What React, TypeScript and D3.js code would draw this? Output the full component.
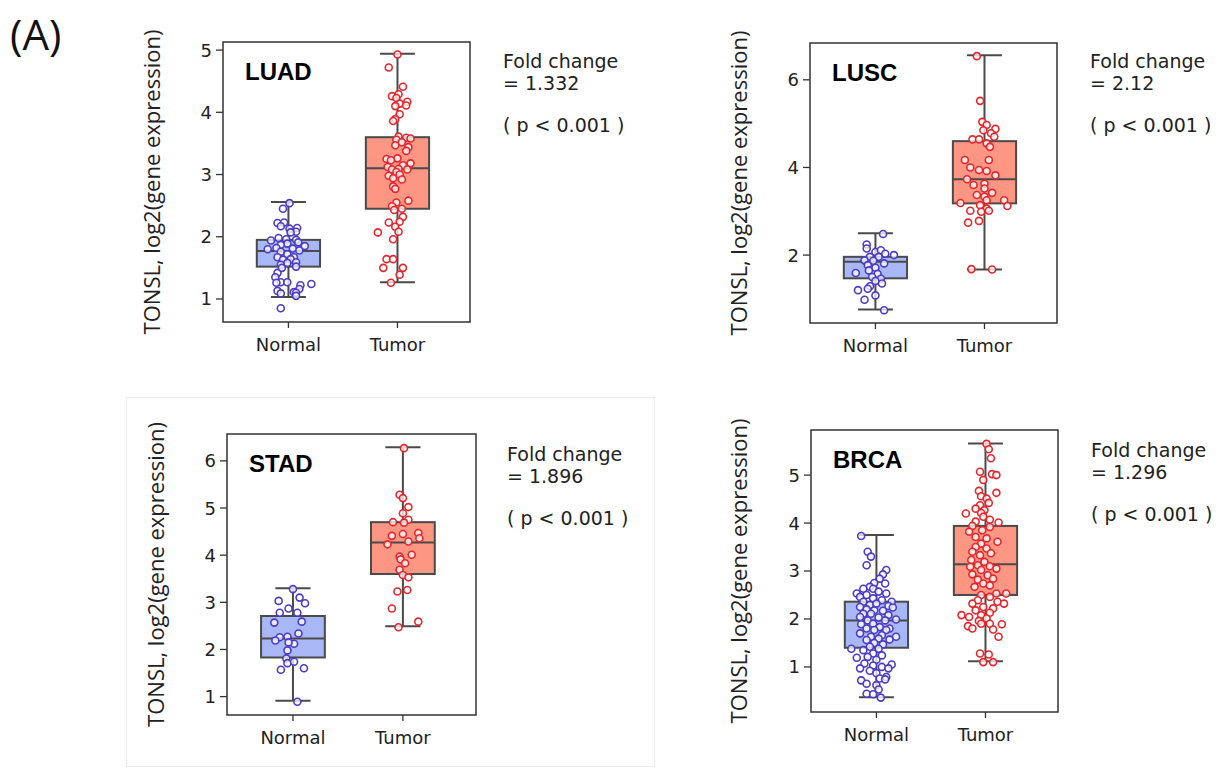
import React from "react";
import * as d3 from "d3";

// ---------- data ----------
const categories = ["Normal", "Tumor"];
const yLabel = "TONSL, log2(gene expression)";

// [min whisker, Q1, median, Q3, max whisker]
const luadNormalStats = [1.03, 1.52, 1.77, 1.95, 2.56];
const luadTumorStats = [1.27, 2.45, 3.1, 3.6, 4.94];
const luscNormalStats = [0.76, 1.47, 1.85, 1.96, 2.5];
const luscTumorStats = [1.67, 3.18, 3.73, 4.6, 6.56];
const stadNormalStats = [0.91, 1.83, 2.23, 2.71, 3.3];
const stadTumorStats = [2.49, 3.6, 4.27, 4.7, 6.29];
const brcaNormalStats = [0.37, 1.4, 1.97, 2.36, 3.75];
const brcaTumorStats = [1.12, 2.5, 3.14, 3.94, 5.66];

// points: [value, jitter (category units)]
const luadNormal = [
  [2.54, 0.01], [2.45, -0.05], [2.22, -0.1], [2.23, -0.04], [2.17, -0.07], [2.14, 0.08], [2.13, 0.01],
  [2.08, 0.07], [2.07, 0.02], [1.98, -0.09], [1.94, -0.16], [1.96, -0.02], [1.95, 0.07], [1.91, 0.09],
  [1.89, -0.01], [1.87, -0.07], [1.85, 0.15], [1.8, -0.19], [1.82, -0.11], [1.81, 0.04], [1.78, 0.1],
  [1.76, -0.07], [1.72, -0.01], [1.67, -0.1], [1.67, 0.05], [1.63, -0.05], [1.64, 0.02], [1.59, 0.07],
  [1.58, -0.01], [1.55, -0.07], [1.52, 0.07], [1.42, -0.1], [1.35, -0.12], [1.5, -0.06], [1.27, -0.07],
  [1.27, -0.01], [1.26, -0.11], [1.24, 0.21], [1.22, 0.11], [1.16, 0.1], [1.13, -0.1], [1.11, 0.05],
  [1.09, -0.07], [1.1, 0.07], [1.05, 0.07], [0.85, -0.07],
];
const luadTumor = [
  [4.93, 0], [4.72, -0.08], [4.41, 0.05], [4.29, 0.01], [4.26, -0.05], [4.23, -0.01], [4.17, 0.09],
  [4.14, 0.02], [4.1, -0.02], [4.11, 0.08], [3.97, 0.02], [3.89, -0.02], [3.86, -0.04], [3.61, 0.01],
  [3.59, 0.08], [3.58, 0.12], [3.56, -0.01], [3.52, 0.04], [3.47, -0.02], [3.44, 0.1], [3.38, 0.08],
  [3.25, -0.1], [3.26, 0], [3.23, -0.06], [3.18, 0.12], [3.15, 0.05], [3.12, -0.09], [3.09, 0.01],
  [3.08, -0.05], [3.08, 0.09], [3.04, -0.01], [3.0, 0.02], [2.98, -0.08], [2.94, -0.04], [2.92, 0.04],
  [2.81, -0.04], [2.77, -0.02], [2.58, 0.1], [2.55, -0.01], [2.49, -0.05], [2.45, 0.04], [2.43, -0.03],
  [2.32, 0.05], [2.24, 0.02], [2.23, -0.08], [2.16, -0.02], [2.08, 0.01], [2.07, -0.18], [1.96, -0.04],
  [1.64, -0.1], [1.64, -0.04], [1.5, -0.13], [1.5, 0.05], [1.39, 0.02], [1.26, -0.06],
];
const luscNormal = [
  [2.48, 0.07], [2.24, -0.08], [2.15, -0.08], [2.07, 0], [2.11, 0.05], [2.03, 0.09], [2.0, 0.17],
  [1.96, -0.05], [1.96, 0.03], [1.88, -0.1], [1.87, -0.02], [1.81, 0.08], [1.77, -0.07], [1.71, 0],
  [1.59, -0.18], [1.65, -0.06], [1.57, 0.02], [1.5, -0.03], [1.46, 0.05], [1.41, 0], [1.35, 0.06],
  [1.29, -0.05], [1.23, -0.07], [1.2, -0.16], [1.08, 0], [0.98, -0.1], [0.74, 0.08],
];
const luscTumor = [
  [6.54, -0.07], [5.52, -0.04], [5.04, -0.02], [4.97, 0.02], [4.88, 0.1], [4.85, -0.01], [4.78, 0.06],
  [4.7, 0.09], [4.64, -0.11], [4.64, -0.05], [4.55, 0.02], [4.47, 0.05], [4.17, -0.18], [4.17, 0.04],
  [4.0, -0.13], [3.94, -0.05], [3.92, 0.02], [3.82, 0.1], [3.73, -0.16], [3.6, -0.1], [3.63, 0],
  [3.52, 0], [3.42, 0.07], [3.37, -0.07], [3.33, 0], [3.25, 0.02], [3.25, 0.18], [3.19, -0.22],
  [3.14, -0.04], [3.12, 0.21], [3.06, 0.02], [2.99, -0.03], [3.01, -0.13], [3.01, 0.04], [2.74, -0.15],
  [2.78, -0.05], [1.68, -0.12], [1.67, 0.07],
];
const stadNormal = [
  [3.28, 0], [3.1, 0.06], [3.03, -0.13], [2.98, 0.11], [2.87, -0.04], [2.78, -0.12], [2.78, 0.04],
  [2.59, 0.08], [2.57, -0.17], [2.34, 0.05], [2.26, -0.12], [2.27, -0.05], [2.19, -0.16], [2.12, 0.01],
  [2.15, -0.04], [1.98, -0.05], [1.81, -0.06], [1.71, -0.05], [1.74, 0.01], [1.57, -0.11], [1.6, 0.1],
  [0.89, 0.04],
];
const stadTumor = [
  [6.27, 0.01], [5.28, -0.03], [5.21, 0], [5.02, 0.05], [4.89, 0], [4.75, 0.05], [4.7, -0.09],
  [4.69, 0.01], [4.41, -0.1], [4.45, 0], [4.47, 0.14], [4.36, 0.15], [4.29, 0.05], [4.23, -0.14],
  [3.97, -0.03], [4.01, 0.08], [3.91, -0.02], [3.83, 0.02], [3.69, -0.03], [3.58, 0], [3.53, 0.05],
  [3.23, -0.05], [3.26, 0.04], [2.87, -0.1], [2.59, 0.14], [2.47, -0.04],
];
const brcaNormal = [
  [3.73, -0.14], [3.4, -0.08], [3.3, -0.05], [3.12, -0.09], [3.02, 0.09], [2.93, 0.06], [2.84, 0.03],
  [2.74, 0.08], [2.75, -0.02], [2.67, -0.06], [2.63, -0.12], [2.63, -0.03], [2.53, -0.18], [2.57, 0.02],
  [2.53, 0.09], [2.5, -0.09], [2.46, -0.15], [2.43, -0.03], [2.39, 0.05], [2.36, 0.14], [2.36, -0.12],
  [2.29, -0.06], [2.32, 0], [2.27, 0.11], [2.25, -0.15], [2.24, 0.15], [2.2, -0.09], [2.18, -0.02],
  [2.17, 0.06], [2.11, -0.12], [2.11, -0.05], [2.08, 0.11], [2.04, -0.15], [2.03, 0.02], [1.99, 0.18],
  [1.97, -0.08], [1.97, 0.08], [1.9, -0.03], [1.89, -0.14], [1.83, 0.03], [1.8, 0.12], [1.8, -0.09],
  [1.77, -0.02], [1.77, 0.09], [1.7, -0.15], [1.66, 0.05], [1.63, 0.18], [1.63, -0.05], [1.57, 0.12],
  [1.59, 0.02], [1.56, -0.09], [1.38, -0.23], [1.5, -0.02], [1.47, 0.06], [1.42, -0.06], [1.38, 0.02],
  [1.35, -0.12], [1.19, -0.18], [1.28, -0.03], [1.24, 0.05], [1.21, -0.08], [1.15, 0], [1.07, -0.11],
  [1.05, 0.14], [1.03, -0.03], [1.0, 0.05], [0.97, -0.15], [0.97, 0.11], [0.92, -0.06], [0.87, 0],
  [0.79, 0.09], [0.76, 0.03], [0.74, 0.08], [0.72, -0.14], [0.65, -0.09], [0.62, 0], [0.53, 0.02],
  [0.44, -0.09], [0.43, -0.03], [0.36, 0.04],
];
const brcaTumor = [
  [5.65, 0.01], [5.54, 0.03], [5.35, 0.05], [5.07, -0.05], [5.02, 0.06], [5.0, 0.1], [4.9, -0.02],
  [4.63, 0.1], [4.67, -0.06], [4.56, -0.04], [4.51, 0.01], [4.42, 0.03], [4.37, -0.05], [4.3, -0.09],
  [4.27, -0.01], [4.21, -0.04], [4.2, -0.18], [4.13, -0.02], [4.07, 0.04], [4.03, -0.09], [4.01, 0.12],
  [3.94, -0.12], [3.92, 0.04], [3.82, -0.15], [3.85, -0.03], [3.71, -0.09], [3.68, 0.01], [3.61, 0.11],
  [3.57, -0.04], [3.5, -0.09], [3.47, 0.01], [3.4, -0.12], [3.37, 0.05], [3.33, -0.05], [3.23, -0.13],
  [3.19, -0.01], [3.12, -0.07], [3.1, 0.04], [3.09, -0.14], [3.05, 0.1], [3.02, -0.04], [2.93, -0.12],
  [2.91, 0.02], [2.84, 0.07], [2.82, -0.07], [2.74, -0.02], [2.7, 0.04], [2.67, -0.1], [2.53, 0.19],
  [2.53, 0.1], [2.5, -0.04], [2.46, 0.04], [2.39, -0.07], [2.36, 0.11], [2.32, -0.12], [2.32, 0.17],
  [2.25, -0.02], [2.22, 0.07], [2.18, -0.09], [2.13, 0.04], [2.08, -0.22], [2.08, -0.04], [2.04, -0.15],
  [2.01, 0.01], [1.96, -0.06], [1.9, 0.04], [1.89, 0.15], [1.9, -0.04], [1.85, -0.16], [1.8, -0.12],
  [1.78, 0.07], [1.63, 0.12], [1.28, -0.05], [1.26, 0.03], [1.1, -0.02], [1.1, 0.07],
];

const luadTicks = [1, 2, 3, 4, 5];
const luscTicks = [2, 4, 6];
const stadTicks = [1, 2, 3, 4, 5, 6];
const brcaTicks = [1, 2, 3, 4, 5];

const foldChanges = ["1.332", "2.12", "1.896", "1.296"];
const pText = "( p < 0.001 )";

// ---------- styles ----------
const NORMAL_FILL = "#a8b7f6";
const TUMOR_FILL = "#fd9682";
const NORMAL_PT = "#4b3cc6";
const TUMOR_PT = "#e6262d";
const EDGE = "#4a4a4a";
const TICK_FONT = "'DejaVu Sans', sans-serif";

type PanelProps = {
  title: string;
  fold: string;
  normal: number[][];
  tumor: number[][];
  normalStats: number[];
  tumorStats: number[];
  ticks: number[];
  yDomain: [number, number];
  box: { x: number; y: number; w: number; h: number };
  labelX: number;
  textX: number;
  textY: number;
};

function Panel(p: PanelProps) {
  const { box } = p;
  const x = d3.scaleLinear().domain([-0.6, 1.665]).range([box.x, box.x + box.w]);
  const y = d3.scaleLinear().domain(p.yDomain).range([box.y + box.h, box.y]);
  const boxW = 0.58;
  const capW = 0.32;
  const groups = [
    { stats: p.normalStats, pts: p.normal, fill: NORMAL_FILL, pc: NORMAL_PT },
    { stats: p.tumorStats, pts: p.tumor, fill: TUMOR_FILL, pc: TUMOR_PT },
  ];
  return (
    <g>
      {groups.map((g, i) => {
        const [mn, q1, med, q3, mx] = g.stats;
        const cx = x(i);
        const bl = x(i - boxW / 2);
        const br = x(i + boxW / 2);
        const cl = x(i - capW / 2);
        const cr = x(i + capW / 2);
        return (
          <g key={i}>
            <line x1={cx} x2={cx} y1={y(q3)} y2={y(mx)} stroke={EDGE} strokeWidth={2} />
            <line x1={cx} x2={cx} y1={y(q1)} y2={y(mn)} stroke={EDGE} strokeWidth={2} />
            <line x1={cl} x2={cr} y1={y(mx)} y2={y(mx)} stroke={EDGE} strokeWidth={2} />
            <line x1={cl} x2={cr} y1={y(mn)} y2={y(mn)} stroke={EDGE} strokeWidth={2} />
            <rect x={bl} y={y(q3)} width={br - bl} height={y(q1) - y(q3)} fill={g.fill} stroke={EDGE} strokeWidth={2} />
            <line x1={bl} x2={br} y1={y(med)} y2={y(med)} stroke={EDGE} strokeWidth={2} />
            {g.pts.map((pt, j) => (
              <circle key={j} cx={x(i + pt[1])} cy={y(pt[0])} r={3.5} fill="#ffffff" fillOpacity={0.75} stroke={g.pc} strokeWidth={1.6} />
            ))}
          </g>
        );
      })}
      <rect x={box.x} y={box.y} width={box.w} height={box.h} fill="none" stroke="#333" strokeWidth={1.5} />
      {p.ticks.map((t) => (
        <g key={t}>
          <line x1={box.x - 7} x2={box.x} y1={y(t)} y2={y(t)} stroke="#333" strokeWidth={1.3} />
          <text x={box.x - 11} y={y(t)} dy="0.36em" textAnchor="end" fontSize={18} fontFamily={TICK_FONT} fill="#222">
            {t}
          </text>
        </g>
      ))}
      {categories.map((c, i) => (
        <g key={c}>
          <line x1={x(i)} x2={x(i)} y1={box.y + box.h} y2={box.y + box.h + 6} stroke="#333" strokeWidth={1.3} />
          <text x={x(i)} y={box.y + box.h + 29} textAnchor="middle" fontSize={18} fontFamily={TICK_FONT} fill="#222">
            {c}
          </text>
        </g>
      ))}
      <text x={box.x + 22} y={box.y + 38} fontSize={24} fontWeight="bold" fontFamily="'Liberation Sans', Arial, sans-serif" fill="#000">
        {p.title}
      </text>
      <text
        transform={`translate(${p.labelX},${box.y + box.h / 2}) rotate(-90)`}
        textAnchor="middle"
        fontSize={22}
        fontFamily="'Open Sans', sans-serif"
        fill="#222"
      >
        {yLabel}
      </text>
      <g fontSize={19} fontFamily={TICK_FONT} fill="#222">
        <text x={p.textX} y={p.textY}>Fold change</text>
        <text x={p.textX} y={p.textY + 22}>= {p.fold}</text>
        <text x={p.textX} y={p.textY + 64}>{pText}</text>
      </g>
    </g>
  );
}

export default function App() {
  return (
    <svg width={1221} height={769} style={{ position: "absolute", left: 0, top: 0, background: "#fff" }}>
      <rect x={0} y={0} width={1221} height={769} fill="#fff" />
      <rect x={126.5} y={397.5} width={528} height={369} fill="none" stroke="#ececec" strokeWidth={1} />
      <text x={10} y={50} fontSize={42} fontFamily="'Open Sans', sans-serif" fill="#111">(A)</text>
      <Panel
        title="LUAD" fold={foldChanges[0]} normal={luadNormal} tumor={luadTumor}
        normalStats={luadNormalStats} tumorStats={luadTumorStats} ticks={luadTicks}
        yDomain={[0.63, 5.13]} box={{ x: 223, y: 42, w: 247, h: 280 }}
        labelX={160} textX={503} textY={68}
      />
      <Panel
        title="LUSC" fold={foldChanges[1]} normal={luscNormal} tumor={luscTumor}
        normalStats={luscNormalStats} tumorStats={luscTumorStats} ticks={luscTicks}
        yDomain={[0.45, 6.84]} box={{ x: 810, y: 43, w: 247, h: 280 }}
        labelX={747} textX={1090} textY={68}
      />
      <Panel
        title="STAD" fold={foldChanges[2]} normal={stadNormal} tumor={stadTumor}
        normalStats={stadNormalStats} tumorStats={stadTumorStats} ticks={stadTicks}
        yDomain={[0.61, 6.57]} box={{ x: 227, y: 434, w: 249, h: 281 }}
        labelX={164} textX={507} textY={461}
      />
      <Panel
        title="BRCA" fold={foldChanges[3]} normal={brcaNormal} tumor={brcaTumor}
        normalStats={brcaNormalStats} tumorStats={brcaTumorStats} ticks={brcaTicks}
        yDomain={[0.06, 5.94]} box={{ x: 811, y: 430, w: 247, h: 282 }}
        labelX={747} textX={1091} textY={457}
      />
    </svg>
  );
}
